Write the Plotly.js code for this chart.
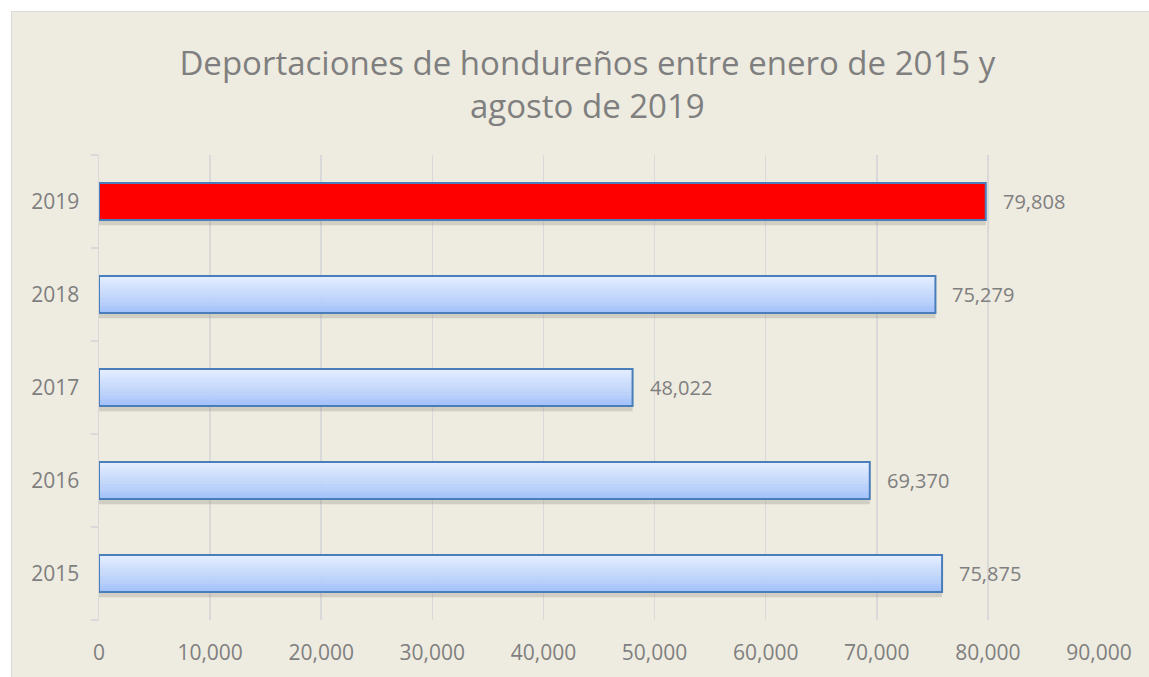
<!DOCTYPE html>
<html>
<head>
<meta charset="utf-8">
<script src="https://cdn.plot.ly/plotly-3.0.1.min.js"></script>
<style>
  html, body { margin: 0; padding: 0; background: #ffffff; }
  #frame { position: absolute; left: 11px; top: 11px; width: 1137px; height: 665px;
           border-left: 1px solid #d9d9d9; border-top: 1px solid #d9d9d9; background: #EEEBE0; }
  #chart { width: 1137px; height: 665px; }
</style>
</head>
<body>
<div id="frame"><div id="chart"></div></div>
<script>
// ---- data ----
const years = ["2015", "2016", "2017", "2018", "2019"];
const deportations = [75875, 69370, 48022, 75279, 79808];
const highlightYear = "2019";
const titleLines = ["Deportaciones de hondureños entre enero de 2015 y", "agosto de 2019"];
const xTicks = [0, 10000, 20000, 30000, 40000, 50000, 60000, 70000, 80000, 90000];

// ---- styling ----
const textGray = "#7f7f7f";
const gridGray = "#d9d9d9";
const edgeBlue = "#4a7ebb";
const barWidth = 0.4;
// vertical gradient (style only): bottom colour -> top colour
const gradBottom = [163, 194, 250];
const gradTop = [229, 238, 254];
const nStrips = 18;
const gradient = [];
for (let i = 0; i < nStrips; i++) {
  const t = i / (nStrips - 1);
  const c = gradBottom.map((b, k) => Math.round(b + (gradTop[k] - b) * t));
  gradient.push("rgb(" + c.join(",") + ")");
}

const traces = [];
// soft shadow under each bar
traces.push({
  type: "bar", orientation: "h", y: years, x: deportations,
  width: 0.06, offset: -barWidth / 2 - 0.055,
  marker: { color: "rgba(110,105,90,0.22)", line: { width: 0 } },
  hoverinfo: "skip", showlegend: false
});
// gradient strips
gradient.forEach((c, i) => {
  traces.push({
    type: "bar", orientation: "h", y: years, x: deportations,
    width: barWidth / nStrips + 0.003, offset: -barWidth / 2 + i * barWidth / nStrips,
    marker: { color: c, line: { width: 0 } },
    hoverinfo: "skip", showlegend: false
  });
});
// outline + highlight
traces.push({
  type: "bar", orientation: "h", y: years, x: deportations,
  width: barWidth, offset: -barWidth / 2,
  marker: {
    color: years.map(y => y === highlightYear ? "#ff0000" : "rgba(0,0,0,0)"),
    line: { color: edgeBlue, width: 2 }
  },
  hoverinfo: "skip", showlegend: false
});

const annotations = years.map((y, i) => ({
  x: deportations[i], y: i, xref: "x", yref: "y",
  text: deportations[i].toLocaleString("en-US"),
  showarrow: false, xanchor: "left", yanchor: "middle", xshift: 15,
  font: { family: "Open Sans", size: 20, color: textGray }
}));

const layout = {
  width: 1137, height: 665,
  paper_bgcolor: "#EEEBE0", plot_bgcolor: "#EEEBE0",
  margin: { l: 87, r: 50, t: 143, b: 57 },
  barmode: "overlay",
  title: {
    text: titleLines.join("<br>"),
    font: { family: "Open Sans", size: 33, color: textGray },
    x: 0.506, xanchor: "center", y: 0.905, yanchor: "middle"
  },
  xaxis: {
    range: [0, 90000], tickvals: xTicks, tickformat: ",d",
    showgrid: true, gridcolor: gridGray, gridwidth: 1.5,
    zeroline: false, showline: false, ticks: "",
    ticklabelstandoff: 18,
    tickfont: { family: "Open Sans", size: 21, color: textGray },
    fixedrange: true
  },
  yaxis: {
    type: "category", categoryorder: "array", categoryarray: years,
    range: [-0.5, years.length - 0.5], autorange: false,
    showline: true, linecolor: gridGray, linewidth: 1.5,
    ticks: "outside", tickson: "boundaries", ticklen: 7, tickcolor: gridGray, tickwidth: 1.5,
    showgrid: false, ticklabelstandoff: 14,
    tickfont: { family: "Open Sans", size: 21, color: textGray },
    fixedrange: true
  },
  annotations: annotations,
  showlegend: false
};

Plotly.newPlot("chart", traces, layout, { displayModeBar: false, staticPlot: true });
</script>
</body>
</html>
